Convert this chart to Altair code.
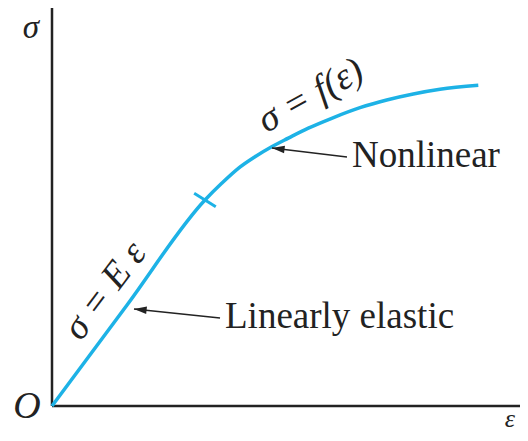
import altair as alt
import pandas as pd

# stress-strain curve (strain, stress) in arbitrary units
strain = [0, 16, 32.69, 36.26, 39.81, 43.38, 46.94, 50.49, 54.77, 59.77, 65.81, 71.52, 77.2, 82.91, 91.09]
stress = [0, 25.33, 51.76, 55.95, 59.72, 62.64, 65.15, 67.3, 69.8, 72.29, 74.95, 76.88, 78.39, 79.57, 80.58]

# proportional limit tick (two ends)
tick_x = [30.38, 35.0]
tick_y = [53.44, 50.08]

# annotations
ann_text = ["Linearly elastic", "Nonlinear"]
ann_x = [36.97, 64.1]
ann_y = [19.6, 60.05]
arrow_tail_x = [35.9, 63.03]
arrow_tail_y = [22.11, 62.56]
arrow_tip_x = [17.52, 47.0]
arrow_tip_y = [24.37, 64.82]
arrow_angle = [6, 7]

# formula labels
formula_text = ["σ = E ε", "σ = f(ε)"]
formula_x = [11.4, 55.3]
formula_y = [28.9, 77.9]
formula_angle = [307, 331]

# axis symbols
sym_text = ["σ", "O", "ε"]
sym_x = [-4.49, -5.34, 97.86]
sym_y = [94.97, -0.25, -3.27]
sym_size = [33, 38, 26]

CYAN = "#1DB2E6"
INK = "#222222"
FONT = "Liberation Serif"

xs = alt.Scale(domain=[0, 100], nice=False, zero=False)
ys = alt.Scale(domain=[0, 100], nice=False, zero=False)

def X(f):
    return alt.X(f, type="quantitative", scale=xs, axis=None)

def Y(f):
    return alt.Y(f, type="quantitative", scale=ys, axis=None)

axes_df = pd.DataFrame({"x": [0, 0], "y": [0, 0], "x2": [0, 100], "y2": [100, 0]})
axes = alt.Chart(axes_df).mark_rule(color=INK, strokeWidth=2.5).encode(
    x=X("x"), y=Y("y"), x2="x2", y2="y2")

curve_df = pd.DataFrame({"x": strain, "y": stress, "o": list(range(len(strain)))})
curve = alt.Chart(curve_df).mark_line(color=CYAN, strokeWidth=3.5, interpolate="monotone").encode(
    x=X("x"), y=Y("y"), order="o:Q")

tick_df = pd.DataFrame({"x": [tick_x[0]], "y": [tick_y[0]], "x2": [tick_x[1]], "y2": [tick_y[1]]})
tick = alt.Chart(tick_df).mark_rule(color=CYAN, strokeWidth=3).encode(
    x=X("x"), y=Y("y"), x2="x2", y2="y2")

arr_df = pd.DataFrame({"x": arrow_tail_x, "y": arrow_tail_y, "x2": arrow_tip_x, "y2": arrow_tip_y,
                       "tx": arrow_tip_x, "ty": arrow_tip_y, "ang": arrow_angle})
arrow_lines = alt.Chart(arr_df).mark_rule(color=INK, strokeWidth=1.6).encode(
    x=X("x"), y=Y("y"), x2="x2", y2="y2")
arrow_heads = alt.Chart(arr_df).mark_point(
    shape="M0,0 L2,-0.6 L2,0.6 Z", filled=True, color=INK, opacity=1, size=160, strokeWidth=0
).encode(x=X("tx"), y=Y("ty"), angle=alt.Angle("ang:Q", scale=None))

ann_df = pd.DataFrame({"x": ann_x, "y": ann_y, "t": ann_text})
ann = alt.Chart(ann_df).mark_text(font=FONT, fontSize=37, color=INK, align="left", baseline="alphabetic").encode(
    x=X("x"), y=Y("y"), text="t:N")

form_df = pd.DataFrame({"x": formula_x, "y": formula_y, "t": formula_text, "a": formula_angle})
form = alt.Chart(form_df).mark_text(font=FONT, fontSize=38, fontStyle="italic", color=INK,
                                    align="center", baseline="middle").encode(
    x=X("x"), y=Y("y"), text="t:N", angle=alt.Angle("a:Q", scale=None))

sym_df = pd.DataFrame({"x": sym_x, "y": sym_y, "t": sym_text, "s": sym_size})
sym = alt.Chart(sym_df).mark_text(font=FONT, fontStyle="italic", color=INK, align="center", baseline="middle").encode(
    x=X("x"), y=Y("y"), text="t:N", size=alt.Size("s:Q", scale=None))

chart = alt.layer(axes, curve, tick, arrow_lines, arrow_heads, ann, form, sym).properties(
    width=468, height=398,
    autosize=alt.AutoSizeParams(type="none"),
    padding={"left": 44, "top": 0, "right": 0, "bottom": 27},
).configure_view(stroke=None)

chart.save("out.html", embed_options={"renderer": "svg", "actions": False})
